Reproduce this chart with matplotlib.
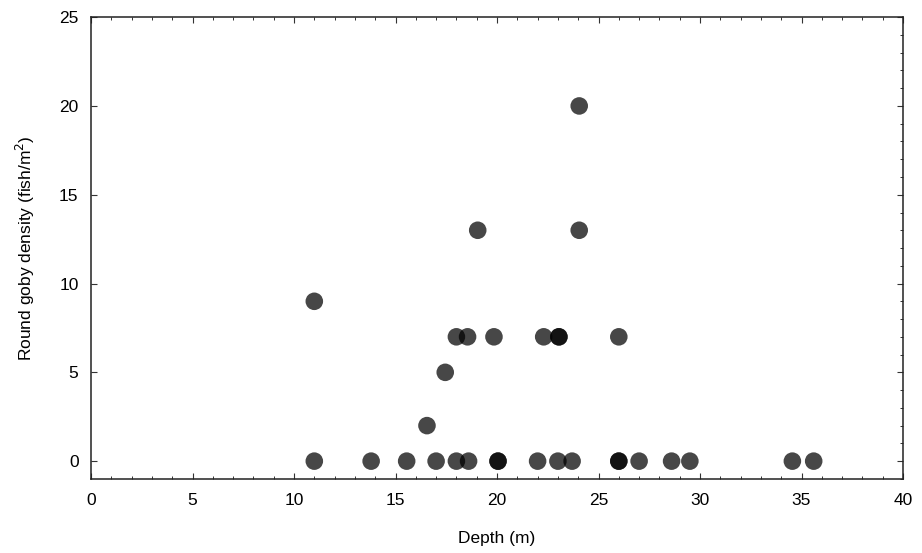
import numpy as np
import matplotlib.pyplot as plt
from matplotlib.ticker import MultipleLocator

plt.rcParams['font.family'] = ['Liberation Sans', 'DejaVu Sans']

# depth (m) and round goby density (fish/m^2)
depth_zero = [11.0, 13.8, 15.55, 17.0, 18.0, 18.6, 20.05, 20.05, 22.0, 23.0,
              23.7, 26.0, 26.0, 27.0, 28.6, 29.5, 34.55, 35.6]
depth_seven = [18.0, 18.55, 19.85, 22.3, 23.05, 23.05, 26.0]
depth_other = [11.0, 16.55, 17.45, 19.05, 24.05, 24.05]
dens_other = [9, 2, 5, 13, 20, 13]

depth = np.array(depth_zero + depth_seven + depth_other)
density = np.array([0] * len(depth_zero) + [7] * len(depth_seven) + dens_other)

fig = plt.figure(figsize=(9.22, 5.53), dpi=100)
ax = fig.add_axes([0.0987, 0.134, 0.8807, 0.835])

ax.scatter(depth, density, s=160, color='black', alpha=0.72,
           edgecolors='none', zorder=3)

ax.set_xlim(0, 40)
ax.set_ylim(-1, 25)
ax.xaxis.set_major_locator(MultipleLocator(5))
ax.xaxis.set_minor_locator(MultipleLocator(1))
ax.yaxis.set_major_locator(MultipleLocator(5))
ax.yaxis.set_minor_locator(MultipleLocator(1))
ax.tick_params(which='both', direction='in', top=True, right=True,
               labelsize=12.5, color='#333333')
ax.tick_params(which='major', length=4, width=0.8)
ax.tick_params(which='minor', length=2.5, width=0.7)
ax.tick_params(axis='y', which='minor', left=False)
ax.tick_params(axis='x', which='major', pad=10)
ax.tick_params(axis='y', which='major', pad=9)
for s in ax.spines.values():
    s.set_linewidth(1.1)
    s.set_color('#222222')

ax.set_xlabel('Depth (m)', fontsize=12.5, labelpad=17)
ax.set_ylabel('Round goby density (fish/m$^2$)', fontsize=12.5, labelpad=16)

fig.savefig('out.png', dpi=100)
